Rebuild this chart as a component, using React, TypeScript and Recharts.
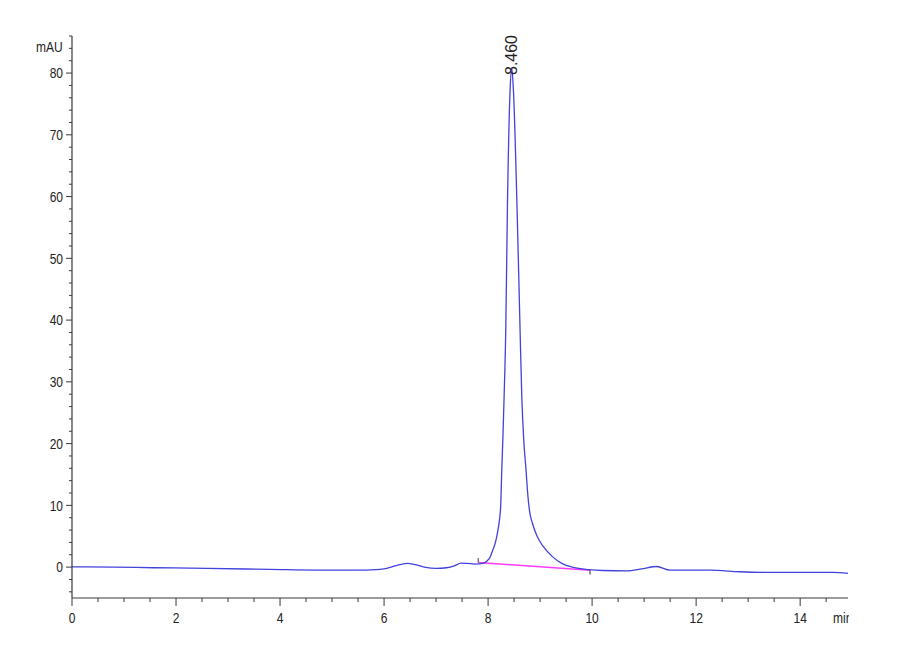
import React from "react";
import { LineChart, Line, XAxis, YAxis, ReferenceLine } from "recharts";

// ---- data ----
const times = [
  0, 0.8, 1.56, 2.6, 3.8, 5.09, 5.5, 5.75, 6.05, 6.3, 6.45, 6.6, 6.8, 7.0, 7.2, 7.35, 7.48, 7.6, 7.75, 7.9,
  7.98, 8.038, 8.09, 8.135, 8.179, 8.218, 8.244, 8.263, 8.285, 8.308, 8.34, 8.371, 8.423, 8.456, 8.487, 8.558,
  8.615, 8.648, 8.69, 8.73, 8.756, 8.795, 8.852, 8.948, 9.064, 9.237, 9.417, 9.64, 9.93, 10.2, 10.67, 10.95,
  11.24, 11.5, 12.27, 12.84, 13.49, 14.63, 14.92,
];
const signal = [
  0.05, 0.0, -0.1, -0.2, -0.37, -0.5, -0.5, -0.45, -0.2, 0.4, 0.6, 0.4, -0.05, -0.2, -0.1, 0.2, 0.65, 0.6, 0.5, 0.6,
  1.0, 1.6, 2.75, 3.8, 5.5, 7.6, 10.3, 15.7, 21.0, 27.6, 38.4, 57.8, 77.2, 80.8, 77.2, 57.8,
  38.4, 27.6, 20.0, 15.7, 12.5, 9.2, 7.1, 4.9, 3.3, 1.7, 0.6, -0.05, -0.4, -0.55, -0.6, -0.3,
  0.1, -0.5, -0.5, -0.75, -0.86, -0.86, -1.0,
];
const baselineTimes = [7.81, 9.96];
const baselineValues = [0.75, -0.5];
const xTicks = [
  0, 0.5, 1, 1.5, 2, 2.5, 3, 3.5, 4, 4.5, 5, 5.5, 6, 6.5, 7, 7.5, 8, 8.5, 9, 9.5, 10, 10.5, 11, 11.5, 12,
  12.5, 13, 13.5, 14, 14.5,
];
const xLabelled = [0, 2, 4, 6, 8, 10, 12, 14];
const yTicks = [
  -4, -2, 0, 2, 4, 6, 8, 10, 12, 14, 16, 18, 20, 22, 24, 26, 28, 30, 32, 34, 36, 38, 40, 42, 44, 46, 48, 50,
  52, 54, 56, 58, 60, 62, 64, 66, 68, 70, 72, 74, 76, 78, 80, 82, 84, 86,
];
const yLabelled = [0, 10, 20, 30, 40, 50, 60, 70, 80];
const peakLabel = "8.460";
const peakTime = 8.456;
const yUnit = "mAU";
const xUnit = "min";

const traceData = times.map((t, i) => ({ t, v: signal[i] }));
const baselineData = baselineTimes.map((t, i) => ({ t, b: baselineValues[i] }));

const FONT = "'Liberation Sans', Arial, sans-serif";
const AXIS = "#3a3a3a";
const TEXT = "#222";
const NARROW = 0.8;

const NarrowText = ({ x, y, anchor, children, clip }: any) => (
  <text
    transform={`translate(${x},${y}) scale(${NARROW},1)`}
    x={0}
    y={0}
    textAnchor={anchor}
    fontSize={15}
    fontFamily={FONT}
    fill={TEXT}
  >
    {children}
  </text>
);

const XTick = (props: any) => {
  const { x, y, payload } = props;
  const major = xLabelled.includes(payload.value);
  return (
    <g>
      <line x1={x} x2={x} y1={y} y2={y + (major ? 8 : 4)} stroke={AXIS} strokeWidth={1} />
      {major && (
        <NarrowText x={x} y={y + 25} anchor="middle">
          {payload.value}
        </NarrowText>
      )}
    </g>
  );
};

const YTick = (props: any) => {
  const { x, y, payload } = props;
  const major = yLabelled.includes(payload.value);
  return (
    <g>
      <line x1={x} x2={x - (major ? 6 : 3)} y1={y} y2={y} stroke={AXIS} strokeWidth={1} />
      {major && (
        <NarrowText x={x - 9} y={y + 5.3} anchor="end">
          {payload.value}
        </NarrowText>
      )}
    </g>
  );
};

const PeakLabel = (props: any) => {
  const { viewBox } = props;
  const cx = viewBox.x;
  return (
    <text
      x={0}
      y={0}
      transform={`translate(${cx + 5.5}, 47) rotate(-90)`}
      textAnchor="middle"
      fontSize={16}
      fontFamily={FONT}
      fill={TEXT}
    >
      {peakLabel}
    </text>
  );
};

export default function App() {
  return (
    <div style={{ width: 900, height: 660, background: "#fff" }}>
      <LineChart
        width={900}
        height={660}
        data={traceData}
        margin={{ top: 28, right: 60, left: 14, bottom: 30 }}
      >
        <defs>
          <clipPath id="unitClip">
            <rect x={0} y={0} width={841} height={660} />
          </clipPath>
        </defs>
        <XAxis
          dataKey="t"
          type="number"
          domain={[0, 14.92]}
          allowDataOverflow
          ticks={xTicks}
          interval={0}
          tickSize={0}
          tickMargin={0}
          tickLine={false}
          tick={<XTick />}
          height={40}
          axisLine={{ stroke: AXIS, strokeWidth: 1.2 }}
        />
        <YAxis
          type="number"
          domain={[-5, 86]}
          allowDataOverflow
          ticks={yTicks}
          interval={0}
          tickSize={0}
          tickMargin={0}
          tickLine={false}
          tick={<YTick />}
          width={50}
          axisLine={{ stroke: AXIS, strokeWidth: 1.2 }}
        />
        <Line
          data={baselineData}
          dataKey="b"
          type="linear"
          stroke="#ff3cff"
          strokeWidth={1.5}
          dot={false}
          isAnimationActive={false}
        />
        <Line
          dataKey="v"
          type="monotone"
          stroke="#4242dc"
          strokeWidth={1.3}
          dot={false}
          isAnimationActive={false}
        />
        <ReferenceLine
          segment={[
            { x: baselineTimes[0], y: baselineValues[0] },
            { x: baselineTimes[0], y: baselineValues[0] + 0.7 },
          ]}
          stroke="#333"
          strokeWidth={1}
        />
        <ReferenceLine
          segment={[
            { x: baselineTimes[1], y: baselineValues[1] },
            { x: baselineTimes[1], y: baselineValues[1] - 0.7 },
          ]}
          stroke="#333"
          strokeWidth={1}
        />
        <ReferenceLine x={peakTime} stroke="none" label={<PeakLabel />} />
        <NarrowText x={54.7} y={44} anchor="end">
          {yUnit}
        </NarrowText>
        <g clipPath="url(#unitClip)">
          <NarrowText x={825} y={615} anchor="start">
            {xUnit}
          </NarrowText>
        </g>
      </LineChart>
    </div>
  );
}
